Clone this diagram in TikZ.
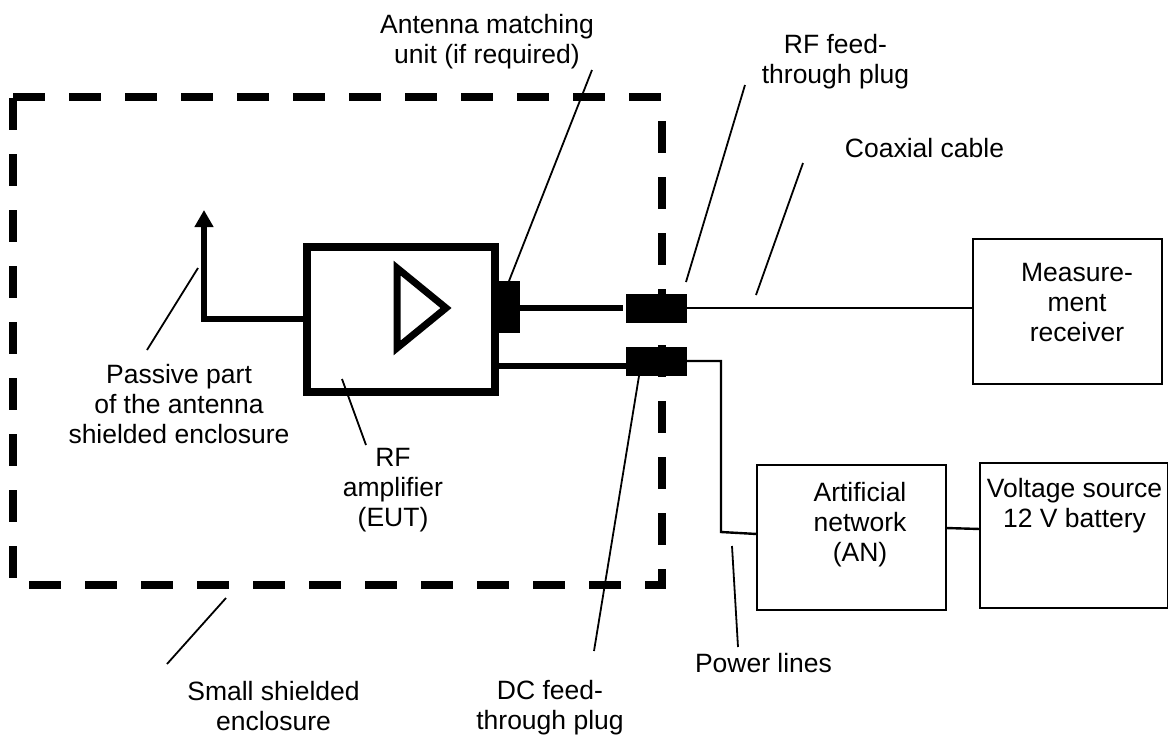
\documentclass[tikz,border=0pt]{standalone}
\usepackage{fontspec}
\setmainfont{Liberation Sans}
\usetikzlibrary{arrows.meta}
\begin{document}
\begin{tikzpicture}[
    x=1pt,y=-1pt,
    every node/.style={font=\fontsize{26.5}{30}\selectfont, align=center, inner sep=0pt},
    enclosure/.style={draw=black, line width=8pt, dash pattern=on 32pt off 24pt},
    amplifier/.style={draw=black, line width=7.5pt, outer sep=0pt},
    plug/.style={draw=none, fill=black, outer sep=0pt},
    wire/.style={draw=black, line width=6pt},
    cable/.style={draw=black, line width=2.4pt},
    leader/.style={draw=black, line width=1.8pt},
    unit/.style={draw=black, line width=2.4pt, outer sep=0pt, anchor=north west}
]
    \useasboundingbox (0,0) rectangle (1168,737);

    % enclosure
    \draw[enclosure] (13,98) -- (13,578);
    \draw[enclosure] (13,97) -- (661,97);
    \draw[enclosure] (29,585) -- (666,585);
    \draw[enclosure] (662,121) -- (662,589);

    % amplifier with its plugs
    \node[amplifier, anchor=north west, minimum width=188pt, minimum height=145pt] (amp) at (307,247) {};
    \draw[amplifier, line width=7pt] (397,268) -- (397,348) -- (446,308) -- cycle;
    \node[plug, anchor=north west, minimum width=21pt, minimum height=52pt] (match) at (499,281) {};
    \node[plug, anchor=north west, minimum width=61pt, minimum height=29pt] (rfplug) at (626,294) {};
    \node[plug, anchor=north west, minimum width=61pt, minimum height=29pt] (dcplug) at (626,347) {};

    % units
    \node[unit, minimum width=189pt, minimum height=145pt] (rx) at (973,239) {};
    \node[unit, minimum width=189pt, minimum height=145pt] (an) at (757,465) {};
    \node[unit, minimum width=188pt, minimum height=145pt] (bat) at (980,463) {};

    % connections
    \coordinate (antfoot) at (304,319);
    \draw[wire, -{Triangle[length=17pt,width=18pt]}] (amp.west |- antfoot) -- (204,319) -- (204,210);
    \draw[wire] (match.east |- 0,308) -- (623,308);
    \draw[wire] (amp.east |- 0,366) -- (dcplug.west |- 0,366);
    \draw[cable] (rfplug.east |- 0,308) -- (rx.west |- 0,308);
    \draw[cable] (dcplug.east |- 0,361) -- (721,361) -- (721,532) -- (an.west |- 0,534);
    \draw[cable] (an.east |- 0,528) -- (bat.west |- 0,529);

    % leaders
    \draw[leader] (509,281) -- (592,70);
    \draw[leader] (686,282) -- (745,85);
    \draw[leader] (756,295) -- (803,163);
    \draw[leader] (198,268) -- (147,350);
    \draw[leader] (342,379) -- (366,445);
    \draw[leader] (639,376) -- (594,651);
    \draw[leader] (226,598) -- (167,664);
    \draw[leader] (732,546) -- (738,647);

    % labels
    \node (lblmatch) at (487,42) {Antenna matching\\unit (if required)};
    \node (lblrf) at (835.5,62) {RF feed-\\through plug};
    \node (lblcoax) at (924.5,148) {Coaxial cable};
    \node (lblpassive) at (179,404) {Passive part\\of the antenna\\shielded enclosure};
    \node (lblamp) at (393,490) {RF\\amplifier\\(EUT)};
    \node (lblsmall) at (273.5,706) {Small shielded\\enclosure};
    \node (lbldc) at (550,708) {DC feed-\\through plug};
    \node (lblpower) at (763.5,663) {Power lines};
    \node (lblrx) at (1077,303) {Measure-\\ment\\receiver};
    \node (lblan) at (860,525) {Artificial\\network\\(AN)};
    \node (lblbat) at (1074.5,506) {Voltage source\\12 V battery};
\end{tikzpicture}
\end{document}
